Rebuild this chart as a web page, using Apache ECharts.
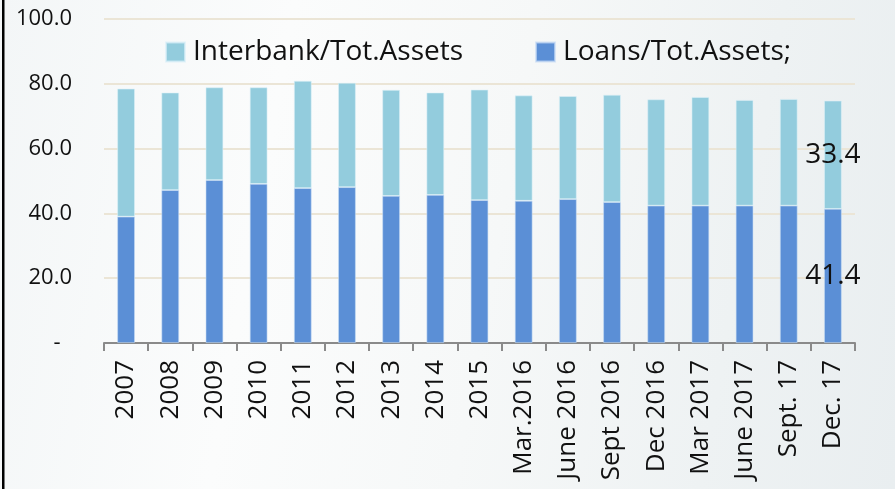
<!DOCTYPE html>
<html>
<head>
<meta charset="utf-8">
<script src="https://cdn.jsdelivr.net/npm/echarts@6/dist/echarts.min.js"></script>
<style>
html,body{margin:0;padding:0;}
#c{width:895px;height:489px;background:linear-gradient(100deg,#f3f6f7 0%,#fbfcfc 30%,#f6f8f8 55%,#eef2f3 80%,#e9eef0 100%);}
</style>
</head>
<body>
<div id="c"></div>
<script>
const categories = ['2007','2008','2009','2010','2011','2012','2013','2014','2015','Mar.2016','June 2016','Sept 2016','Dec 2016','Mar 2017','June 2017','Sept. 17','Dec. 17'];
const loans = [39.0, 47.2, 50.3, 49.1, 47.8, 48.1, 45.4, 45.7, 44.1, 43.9, 44.4, 43.5, 42.4, 42.4, 42.4, 42.4, 41.4];
const interbank = [39.5, 30.1, 28.6, 29.8, 33.1, 32.2, 32.7, 31.6, 34.1, 32.5, 31.8, 33.1, 32.8, 33.5, 32.6, 32.9, 33.4];
const yTicks = [0, 20, 40, 60, 80, 100];

const FONT = 'Open Sans';
const last = categories.length - 1;
function withLastLabel(arr){
  return arr.map((v,i)=> i===last ? {value:v, label:{show:true}} : v);
}
const chart = echarts.init(document.getElementById('c'));
chart.setOption({
  backgroundColor: 'transparent',
  animation: false,
  textStyle: {fontFamily: FONT},
  graphic: [{type:'rect', shape:{x:2, y:0, width:2.5, height:489}, style:{fill:'#000'}}],
  legend: {
    data: ['Interbank/Tot.Assets','Loans/Tot.Assets;'],
    left: 160, top: 33,
    itemWidth: 19, itemHeight: 19, itemGap: 72,
    icon: 'rect',
    textStyle: {fontFamily: FONT, fontSize: 28, color: '#111', padding:[0,0,0,3]}
  },
  grid: {left: 104, right: 40, top: 19, bottom: 146, containLabel: false},
  xAxis: {
    type: 'category',
    data: categories,
    axisLine: {lineStyle: {color: '#8a8a8a', width: 2}},
    axisTick: {show: true, length: 8, lineStyle: {color: '#8a8a8a', width: 2}},
    axisLabel: {rotate: 90, fontSize: 26, color: '#111', margin: 17, fontFamily: FONT, interval: 0}
  },
  yAxis: {
    type: 'value', min: 0, max: 100, interval: 20,
    axisLine: {show: false}, axisTick: {show: false},
    splitLine: {lineStyle: {color: '#ebe5d6', width: 2}},
    axisLabel: {
      fontSize: 22, color: '#111', margin: 32, fontFamily: FONT,
      formatter: v => yTicks.includes(v) ? (v === 0 ? '-  ' : v.toFixed(1)) : ''
    }
  },
  series: [
    {
      name: 'Loans/Tot.Assets;', type: 'bar', stack: 's', barWidth: '40%',
      itemStyle: {color: '#5b8fd6', borderColor: 'rgba(200,220,245,0.7)', borderWidth: 0.8},
      label: {show: false, position: 'inside', fontSize: 28, color: '#111', fontFamily: FONT, formatter: p => p.value.toFixed(1)},
      data: withLastLabel(loans)
    },
    {
      name: 'Interbank/Tot.Assets', type: 'bar', stack: 's', barWidth: '40%',
      itemStyle: {color: '#93ccdd', borderColor: 'rgba(220,240,248,0.7)', borderWidth: 0.8},
      label: {show: false, position: 'inside', fontSize: 28, color: '#111', fontFamily: FONT, formatter: p => p.value.toFixed(1)},
      data: withLastLabel(interbank)
    }
  ]
});
</script>
</body>
</html>
